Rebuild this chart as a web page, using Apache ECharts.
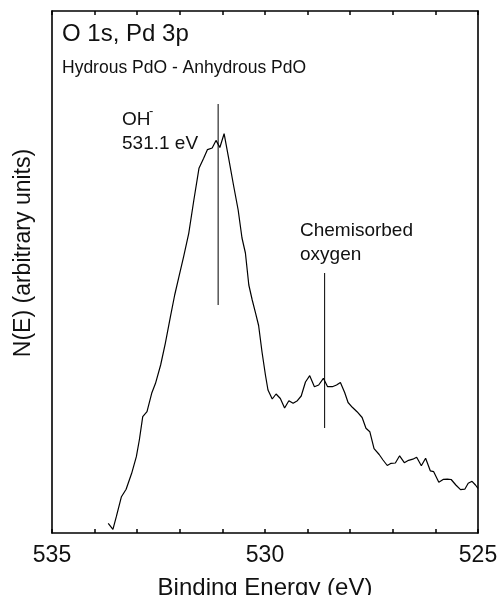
<!DOCTYPE html>
<html>
<head>
<meta charset="utf-8">
<script src="https://cdn.jsdelivr.net/npm/echarts@6/dist/echarts.min.js"></script>
<style>
  html, body { margin: 0; padding: 0; background: #fff; }
  #chart { width: 499px; height: 595px; }
</style>
</head>
<body>
<div id="chart"></div>
<script>
// O 1s / Pd 3p difference spectrum (hydrous minus anhydrous PdO)
const bindingEnergy = [
  533.68, 533.57, 533.49, 533.37, 533.26, 533.13, 533.02, 532.95, 532.87, 532.77,
  532.66, 532.57, 532.45, 532.34, 532.22, 532.12, 532.02, 531.91, 531.79, 531.67,
  531.55, 531.44, 531.35, 531.24, 531.15, 531.06, 530.96, 530.86, 530.74, 530.63,
  530.54, 530.46, 530.38, 530.30, 530.22, 530.15, 530.07, 529.99, 529.93, 529.83,
  529.74, 529.64, 529.54, 529.44, 529.34, 529.24, 529.15, 529.05, 528.95, 528.84,
  528.74, 528.63, 528.53, 528.42, 528.32, 528.23, 528.13, 528.05, 527.95, 527.84,
  527.72, 527.63, 527.54, 527.44, 527.32, 527.23, 527.13, 527.04, 526.94, 526.84,
  526.73, 526.63, 526.53, 526.44, 526.33, 526.23, 526.12, 526.04, 525.92, 525.81,
  525.72, 525.63, 525.52, 525.41, 525.31, 525.23, 525.14, 525.06, 525.00
];
const intensity = [
  9.7, 3.7, 16.3, 36.3, 43.7, 59.7, 76.3, 93, 116.3, 121.3,
  139.7, 149.7, 168, 189.7, 216.3, 238, 256.3, 276.3, 299.7, 333,
  364.7, 374.7, 383.4, 385, 392.6, 385.5, 399.3, 376.3, 348, 323,
  295, 280, 248, 233, 219.7, 207.5, 181, 158, 143, 134,
  139, 134.5, 125, 132.3, 129.7, 132.3, 137, 151, 157.3, 146.3,
  148, 154.7, 146.3, 146.3, 148, 150.5, 140.5, 130.5, 125.7, 121.3,
  115.5, 104.7, 101.3, 84.3, 78.5, 73, 67.5, 69.7, 70, 77.2,
  70.3, 72.7, 73.8, 75.7, 67.2, 74.7, 62.2, 61.3, 50.7, 53.7,
  53.8, 53.5, 48, 43.3, 43.8, 49.7, 51.7, 48, 44.7
];

// Peak marker positions (eV) and the vertical extent of each marker line
const ohPeak = 531.1;
const ohMarker = [228, 429];
const chemPeak = 528.6;
const chemMarker = [105, 260];

const xTickLabels = [535, 530, 525];

const FONT = '"Liberation Sans", Arial, sans-serif';
const INK = '#111';

const chart = echarts.init(document.getElementById('chart'), null, { renderer: 'canvas' });

const frameLine = { show: true, onZero: false, lineStyle: { color: '#000', width: 1.6 } };

const xBase = {
  type: 'value',
  min: 525,
  max: 535,
  interval: 1,
  inverse: true,
  axisLine: frameLine,
  axisTick: { show: true, inside: true, length: 4, lineStyle: { color: '#000', width: 1.5 } },
  splitLine: { show: false }
};

const yBase = {
  type: 'value',
  min: 0,
  max: 522,
  axisLine: frameLine,
  axisTick: { show: false },
  axisLabel: { show: false },
  splitLine: { show: false }
};

chart.setOption({
  animation: false,
  backgroundColor: '#fff',
  grid: { left: 52, right: 21, top: 11, bottom: 62, containLabel: false, outerBoundsMode: 'none' },
  xAxis: [
    Object.assign({}, xBase, {
      position: 'bottom',
      axisLabel: {
        show: true,
        margin: 11,
        fontSize: 23,
        fontFamily: FONT,
        color: INK,
        formatter: v => (xTickLabels.indexOf(v) >= 0 ? String(v) : '')
      },
      name: 'Binding Energy (eV)',
      nameLocation: 'middle',
      nameGap: 43,
      nameTextStyle: { fontSize: 24, fontFamily: FONT, color: INK }
    }),
    Object.assign({}, xBase, {
      position: 'top',
      axisLabel: { show: false }
    })
  ],
  yAxis: [
    Object.assign({}, yBase, { position: 'left' }),
    Object.assign({}, yBase, { position: 'right' })
  ],
  series: [
    {
      type: 'line',
      data: bindingEnergy.map((e, i) => [e, intensity[i]]),
      showSymbol: false,
      lineStyle: { color: '#000', width: 1.2 },
      z: 3
    },
    {
      type: 'line',
      data: ohMarker.map(v => [ohPeak, v]),
      showSymbol: false,
      lineStyle: { color: '#000', width: 1 }
    },
    {
      type: 'line',
      data: chemMarker.map(v => [chemPeak, v]),
      showSymbol: false,
      lineStyle: { color: '#000', width: 1 }
    }
  ],
  graphic: [
    {
      type: 'text',
      x: 24, y: 253,
      rotation: Math.PI / 2,
      style: {
        text: 'N(E) (arbitrary units)',
        font: '23px ' + FONT,
        fill: INK,
        align: 'center',
        verticalAlign: 'middle'
      }
    },
    { type: 'text', left: 62, top: 22, style: { text: 'O 1s, Pd 3p', font: '24px ' + FONT, fill: INK } },
    { type: 'text', left: 62, top: 59, style: { text: 'Hydrous PdO - Anhydrous PdO', font: '17.5px ' + FONT, fill: INK } },
    { type: 'text', left: 122, top: 110, style: { text: 'OH', font: '19px ' + FONT, fill: INK } },
    { type: 'text', left: 149, top: 105, style: { text: '-', font: '13px ' + FONT, fill: INK } },
    { type: 'text', left: 122, top: 134, style: { text: '531.1 eV', font: '19px ' + FONT, fill: INK } },
    { type: 'text', left: 300, top: 221, style: { text: 'Chemisorbed', font: '19px ' + FONT, fill: INK } },
    { type: 'text', left: 300, top: 245, style: { text: 'oxygen', font: '19px ' + FONT, fill: INK } }
  ]
});
</script>
</body>
</html>
